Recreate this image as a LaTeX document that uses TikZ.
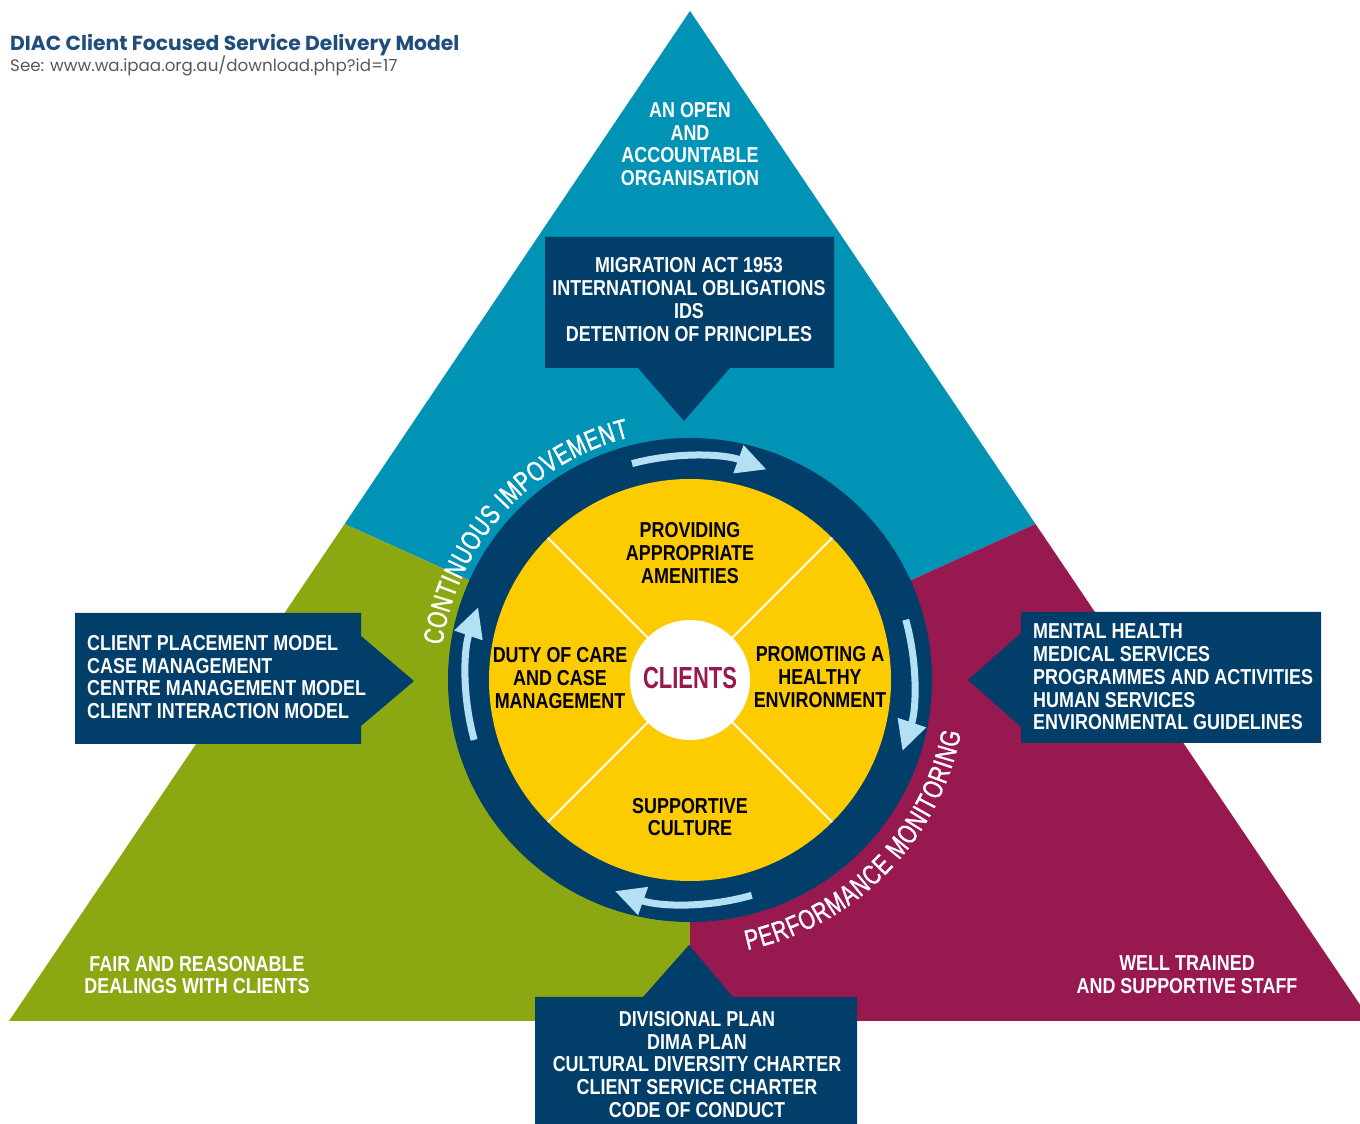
\documentclass[tikz,border=0pt]{standalone}
\usepackage{fontspec}
\usetikzlibrary{arrows.meta,decorations.text}
\newfontfamily\condb{Liberation Sans Bold}[FakeStretch=0.83]
\newfontfamily\condr{Liberation Sans}[FakeStretch=0.74,FakeBold=1.2]
\newfontfamily\clientsf{Liberation Sans Bold}[FakeStretch=0.72]
\newfontfamily\titlef{Poppins}
\definecolor{cTeal}{HTML}{0093B5}
\definecolor{cGreen}{HTML}{8BA813}
\definecolor{cMag}{HTML}{981850}
\definecolor{cNavy}{HTML}{013E6A}
\definecolor{cYellow}{HTML}{FCCB00}
\definecolor{cLight}{HTML}{B4E0F4}
\definecolor{cTitle}{HTML}{1F4E7D}
\definecolor{cGray}{HTML}{58595B}
\tikzset{
  boxtxt/.style={text=white, inner sep=0pt, font=\condb\fontsize{21.6}{22.8}\selectfont},
  yeltxt/.style={text=black, inner sep=0pt, align=center, font=\condb\fontsize{21.6}{22.6}\selectfont},
  cyclearrow/.style={draw=cLight, line width=7pt, -{Triangle[length=30pt,width=28pt]}},
  divline/.style={draw=white, line width=2pt},
  callout/.style={fill=cNavy}
}
\begin{document}
\begin{tikzpicture}[x=1pt,y=1pt]
\useasboundingbox (0,0) rectangle (1360,1124);
\clip (0,0) rectangle (1360,1124);
\fill[white] (0,0) rectangle (1360,1124);
% triangle regions
\coordinate (C) at (690,444);
\coordinate (apex) at (690,1113);
\coordinate (BL) at (9,103);
\coordinate (BR) at (1371,103);
\coordinate (ML) at (344.6,600);
\coordinate (MR) at (1035.5,600);
\coordinate (MB) at (690,103);
\fill[cTeal] (apex) -- (ML) -- (C) -- (MR) -- cycle;
\fill[cGreen] (ML) -- (BL) -- (MB) -- (C) -- cycle;
\fill[cMag] (MR) -- (C) -- (MB) -- (BR) -- cycle;
% callouts
\fill[callout] (545,887) -- (834,887) -- (834,756) -- (730,756) -- (684,703) -- (638,756) -- (545,756) -- cycle;
\fill[callout] (75,511) -- (361,511) -- (361,488) -- (414,443) -- (361,398) -- (361,380) -- (75,380) -- cycle;
\fill[callout] (1021,512) -- (1321,512) -- (1321,381) -- (1021,381) -- (1021,397) -- (968,444) -- (1021,491) -- cycle;
\fill[callout] (535,127) -- (643,127) -- (689,179) -- (733,127) -- (857,127) -- (857,-5) -- (535,-5) -- cycle;
% wheel
\fill[cNavy] (C) circle[radius=242];
\fill[cYellow] (C) circle[radius=201];
\foreach \a in {45,135,225,315}{
  \draw[divline] ([shift={(690,444)}]\a:55) -- ([shift={(690,444)}]\a:201);
}
\fill[white] (C) circle[radius=60];
% cycle arrows
\draw[cyclearrow] ([shift={(690,444)}]105:224) arc[start angle=105,end angle=70,radius=224];
\draw[cyclearrow] ([shift={(690,444)}]15.6:224) arc[start angle=15.6,end angle=-18.5,radius=224];
\draw[cyclearrow] ([shift={(690,444)}]-74:224) arc[start angle=-74,end angle=-109.6,radius=224];
\draw[cyclearrow] ([shift={(690,444)}]195.5:224) arc[start angle=195.5,end angle=161,radius=224];
% arc texts
\path[decorate, decoration={text along path, text color=white, text align=fit to path,
  text={|\condr\fontsize{28}{28}\selectfont|CONTINUOUS IMPOVEMENT}}]
  ([shift={(690,444)}]172:250) arc[start angle=172,end angle=104,radius=250];
\path[decorate, decoration={text along path, text color=white, text align=fit to path,
  text={|\condr\fontsize{28}{28}\selectfont|PERFORMANCE MONITORING}}]
  ([shift={(690,444)}]-78:276) arc[start angle=-78,end angle=-11,radius=276];
% texts
\node[anchor=base west, inner sep=0pt, text=cTitle, font=\titlef\bfseries\fontsize{20.3}{22}\selectfont] (title) at (10,1073) {DIAC Client Focused Service Delivery Model};
\node[anchor=base west, inner sep=0pt, text=cGray, font=\titlef\fontsize{16.7}{18}\selectfont] (see) at (10,1052) {See: www.wa.ipaa.org.au/download.php?id=17};
\node[boxtxt, align=center] (open) at (690,980) {AN OPEN\\AND\\ACCOUNTABLE\\ORGANISATION};
\node[boxtxt, align=center] (fair) at (197,149) {FAIR AND REASONABLE\\DEALINGS WITH CLIENTS};
\node[boxtxt, align=center] (well) at (1187,149) {WELL TRAINED\\AND SUPPORTIVE STAFF};
\node[boxtxt, align=center] (topbox) at (689,824.5) {MIGRATION ACT 1953\\INTERNATIONAL OBLIGATIONS\\IDS\\DETENTION OF PRINCIPLES};
\node[boxtxt, align=left, anchor=west] (leftbox) at (87,447) {CLIENT PLACEMENT MODEL\\CASE MANAGEMENT\\CENTRE MANAGEMENT MODEL\\CLIENT INTERACTION MODEL};
\node[boxtxt, align=left, anchor=west] (rightbox) at (1033,447) {MENTAL HEALTH\\MEDICAL SERVICES\\PROGRAMMES AND ACTIVITIES\\HUMAN SERVICES\\ENVIRONMENTAL GUIDELINES};
\node[boxtxt, align=center] (botbox) at (697,59.5) {DIVISIONAL PLAN\\DIMA PLAN\\CULTURAL DIVERSITY CHARTER\\CLIENT SERVICE CHARTER\\CODE OF CONDUCT};
\node[yeltxt] (amen) at (690,571) {PROVIDING\\APPROPRIATE\\AMENITIES};
\node[yeltxt] (duty) at (560,446) {DUTY OF CARE\\AND CASE\\MANAGEMENT};
\node[yeltxt] (prom) at (820,447) {PROMOTING A\\HEALTHY\\ENVIRONMENT};
\node[yeltxt] (supp) at (690,307) {SUPPORTIVE\\CULTURE};
\node[inner sep=0pt, text=cMag, font=\clientsf\fontsize{30.5}{32}\selectfont] (clients) at (690,446) {CLIENTS};
\end{tikzpicture}
\end{document}
